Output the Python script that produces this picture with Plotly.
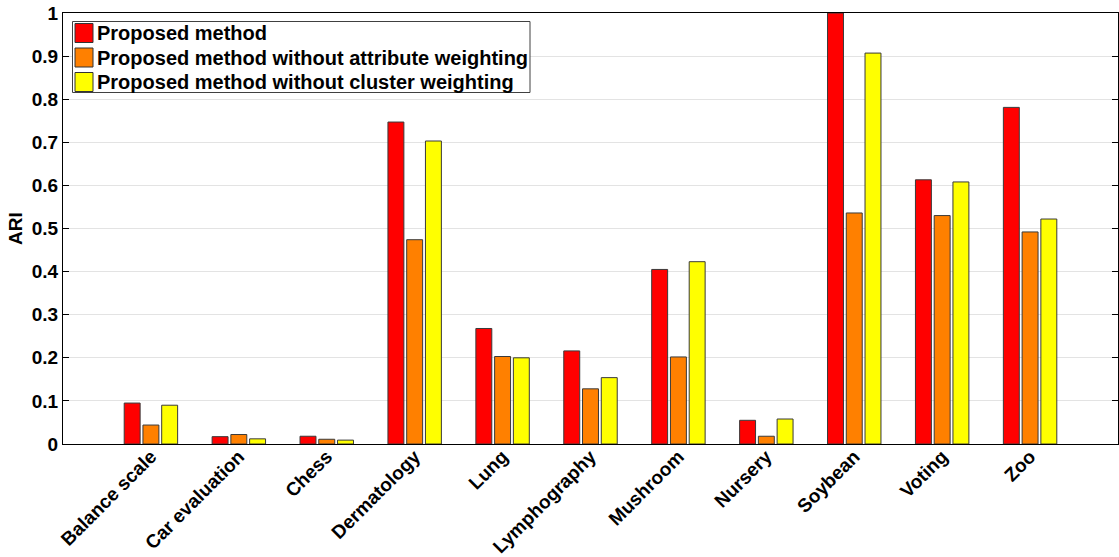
import plotly.graph_objects as go

datasets = ["Balance scale", "Car evaluation", "Chess", "Dermatology", "Lung",
            "Lymphography", "Mushroom", "Nursery", "Soybean", "Voting", "Zoo"]
proposed = [0.095, 0.017, 0.018, 0.747, 0.268, 0.216, 0.405, 0.055, 1.0, 0.613, 0.781]
no_attr_w = [0.044, 0.022, 0.011, 0.474, 0.203, 0.128, 0.202, 0.018, 0.536, 0.530, 0.492]
no_clust_w = [0.090, 0.012, 0.009, 0.703, 0.200, 0.154, 0.423, 0.058, 0.907, 0.608, 0.522]
y_ticks = [0, 0.1, 0.2, 0.3, 0.4, 0.5, 0.6, 0.7, 0.8, 0.9, 1]

series = [
    ("Proposed method", proposed, "#FF0000"),
    ("Proposed method without attribute weighting", no_attr_w, "#FF8000"),
    ("Proposed method without cluster weighting", no_clust_w, "#FFFF00"),
]

W, H = 1119, 557
ML, MR, MT, MB = 63, 1, 13, 113
PW, PH = W - ML - MR, H - MT - MB

def px_x(px):
    return (px - ML) / PW

def px_y(py):
    return (H - MB - py) / PH

xpos = list(range(1, len(datasets) + 1))
font = "Liberation Sans, Arial, sans-serif"
bold19 = dict(family=font, size=19, color="black", weight="bold")
bold20 = dict(family=font, size=20, color="black", weight="bold")

fig = go.Figure()
for name, vals, color in series:
    fig.add_trace(go.Bar(
        x=xpos, y=vals, name=name, showlegend=False,
        marker=dict(color=color, line=dict(color="#3a3a3a", width=1)),
    ))

# Boxed legend in the upper-left corner of the axes
shapes = [dict(type="rect", xref="paper", yref="paper",
               x0=px_x(72.5), x1=px_x(530), y0=px_y(92.5), y1=px_y(21.5),
               fillcolor="white", line=dict(color="#404040", width=1), layer="above")]
annotations = []
row_centers = [33, 57.5, 82]
for (name, _, color), cy in zip(series, row_centers):
    shapes.append(dict(type="rect", xref="paper", yref="paper",
                       x0=px_x(75), x1=px_x(93), y0=px_y(cy + 9.5), y1=px_y(cy - 9.5),
                       fillcolor=color, line=dict(color="#333333", width=1), layer="above"))
    annotations.append(dict(xref="paper", yref="paper", x=px_x(95), y=px_y(cy),
                            xanchor="left", yanchor="middle", text=name,
                            showarrow=False, font=bold20))

fig.update_layout(
    width=W, height=H,
    margin=dict(l=ML, r=MR, t=MT, b=MB),
    paper_bgcolor="white", plot_bgcolor="white",
    barmode="group", bargap=0.36, bargroupgap=0.15,
    font=dict(family=font, size=19, color="black"),
    showlegend=False,
    shapes=shapes, annotations=annotations,
    xaxis=dict(
        range=[0, len(datasets) + 1],
        tickmode="array", tickvals=xpos, ticktext=datasets,
        tickangle=-45, ticks="", showgrid=False, automargin=False,
        ticklabelstandoff=-7,
        showline=True, linecolor="black", linewidth=1, mirror=True,
        tickfont=bold19, zeroline=False,
    ),
    yaxis=dict(
        range=[0, 1], tickmode="array", tickvals=y_ticks,
        ticktext=[f"{v:g}" for v in y_ticks], automargin=False,
        ticks="inside", ticklen=6, tickcolor="black",
        showline=True, linecolor="black", linewidth=1, mirror="ticks",
        showgrid=True, gridcolor="#e3e3e3", gridwidth=1, zeroline=False,
        tickfont=bold19,
        title=dict(text="ARI", standoff=4, font=bold19),
    ),
)

fig.write_html("out.html")
